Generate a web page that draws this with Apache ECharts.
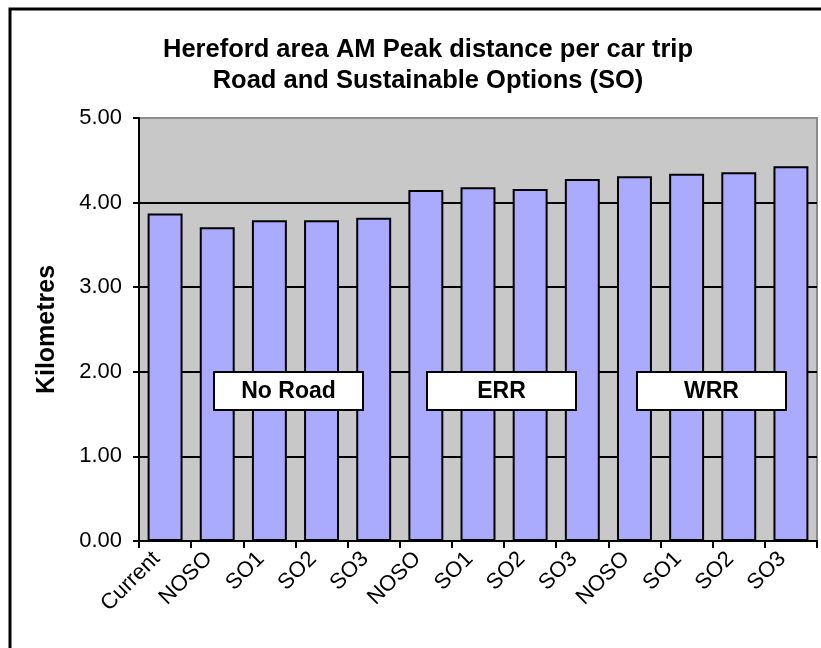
<!DOCTYPE html>
<html>
<head>
<meta charset="utf-8">
<script src="https://cdn.jsdelivr.net/npm/echarts@6/dist/echarts.min.js"></script>
<style>
  html, body { margin: 0; padding: 0; background: #fff; }
  #chart { width: 821px; height: 648px; }
</style>
</head>
<body>
<div id="chart"></div>
<script>
let categories = ['Current', 'NOSO', 'SO1', 'SO2', 'SO3', 'NOSO', 'SO1', 'SO2', 'SO3', 'NOSO', 'SO1', 'SO2', 'SO3'];
let distances = [3.87, 3.71, 3.79, 3.79, 3.82, 4.15, 4.18, 4.16, 4.28, 4.31, 4.34, 4.36, 4.43];
let groupLabels = ['No Road', 'ERR', 'WRR'];
let yTicks = [0, 1, 2, 3, 4, 5];

let chart = echarts.init(document.getElementById('chart'));
let font = 'Liberation Sans, Arial, sans-serif';

// text boxes sitting on top of the bars
let boxX = [214, 427, 637];
let boxes = [];
groupLabels.forEach((name, i) => {
    boxes.push({
        type: 'rect',
        z: 200,
        zlevel: 1,
        shape: { x: boxX[i], y: 372, width: 149, height: 38 },
        style: { fill: '#fff', stroke: '#000', lineWidth: 2 }
    });
    boxes.push({
        type: 'text',
        z: 201,
        zlevel: 1,
        style: {
            x: boxX[i] + 74.5, y: 392, text: name, align: 'center', verticalAlign: 'middle',
            font: 'bold 23px ' + font, fill: '#000'
        }
    });
});

chart.setOption({
    backgroundColor: '#fff',
    animation: false,
    title: {
        text: 'Hereford area AM Peak distance per car trip\nRoad and Sustainable Options (SO)',
        left: 423,
        top: 29,
        textAlign: 'center',
        textStyle: { fontFamily: font, fontWeight: 'bold', fontSize: 25.5, lineHeight: 31, color: '#000' }
    },
    grid: {
        left: 139, right: 4, top: 118, bottom: 107,
        show: true, backgroundColor: '#c8c8c8', borderColor: '#8c8c8c', borderWidth: 2
    },
    xAxis: {
        type: 'category',
        data: categories,
        axisLine: { lineStyle: { color: '#000', width: 2 } },
        axisTick: { show: true, length: 7, lineStyle: { color: '#000', width: 2 } },
        axisLabel: {
            rotate: 45, fontFamily: font, fontSize: 22, color: '#000', margin: 6, interval: 0,
            padding: [0, 12, 0, 0]
        }
    },
    yAxis: {
        type: 'value',
        min: yTicks[0],
        max: yTicks[yTicks.length - 1],
        interval: 1,
        name: 'Kilometres',
        nameLocation: 'middle',
        nameGap: 79,
        nameTextStyle: { fontFamily: font, fontWeight: 'bold', fontSize: 25, color: '#000' },
        axisLine: { show: true, lineStyle: { color: '#000', width: 2 } },
        axisTick: { show: true, length: 6, lineStyle: { color: '#000', width: 2 } },
        axisLabel: { formatter: v => v.toFixed(2), fontFamily: font, fontSize: 22, color: '#000', margin: 17 },
        splitLine: { lineStyle: { color: ['#000', '#000', '#000', '#000', '#000', '#8c8c8c'], width: 2 } }
    },
    series: [{
        type: 'bar',
        data: distances,
        barCategoryGap: '33%',
        itemStyle: { color: '#aaaaff', borderColor: '#000', borderWidth: 2 }
    }],
    graphic: [
        {
            type: 'rect',
            z: 200,
            zlevel: 1,
            shape: { x: 10, y: 9, width: 840, height: 680 },
            style: { fill: 'none', stroke: '#000', lineWidth: 3 }
        }
    ].concat(boxes)
});
</script>
</body>
</html>
